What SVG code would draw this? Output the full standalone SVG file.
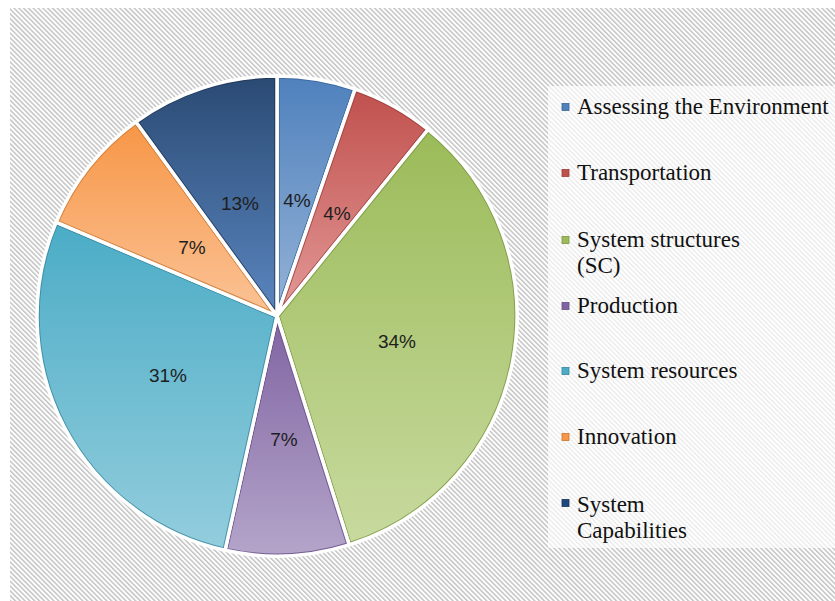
<svg xmlns="http://www.w3.org/2000/svg" xmlns:xlink="http://www.w3.org/1999/xlink" width="835" height="601" viewBox="0 0 835 601">
<defs>
<pattern id="hatch" patternUnits="userSpaceOnUse" width="3.4" height="3.4" patternTransform="rotate(-45)">
<rect x="0" y="0" width="3.4" height="3.4" fill="#ffffff"/>
<rect x="0" y="0" width="1.5" height="3.4" fill="#c4c4c4"/>
</pattern>
<linearGradient id="g1" x1="0" y1="0" x2="0" y2="1"><stop offset="0" stop-color="#4f81bd"/><stop offset="1" stop-color="#95b3d7"/></linearGradient>
<linearGradient id="g2" x1="0" y1="0" x2="0" y2="1"><stop offset="0" stop-color="#c0504d"/><stop offset="1" stop-color="#e39a98"/></linearGradient>
<linearGradient id="g3" x1="0" y1="0" x2="0" y2="1"><stop offset="0" stop-color="#9bbb59"/><stop offset="1" stop-color="#c8da9f"/></linearGradient>
<linearGradient id="g4" x1="0" y1="0" x2="0" y2="1"><stop offset="0" stop-color="#8064a2"/><stop offset="1" stop-color="#b4a5ca"/></linearGradient>
<linearGradient id="g5" x1="0" y1="0" x2="0" y2="1"><stop offset="0" stop-color="#4bacc6"/><stop offset="1" stop-color="#93cddd"/></linearGradient>
<linearGradient id="g6" x1="0" y1="0" x2="0" y2="1"><stop offset="0" stop-color="#f79646"/><stop offset="1" stop-color="#fbc397"/></linearGradient>
<linearGradient id="g7" x1="0" y1="0" x2="0" y2="1"><stop offset="0" stop-color="#2a4a73"/><stop offset="1" stop-color="#5b86c0"/></linearGradient>
<path id="s1" d="M277,316 L277,76 A240,240 0 0 1 355.14,89.08 Z"/>
<path id="s2" d="M277,316 L355.14,89.08 A240,240 0 0 1 428.04,129.48 Z"/>
<path id="s3" d="M277,316 L428.04,129.48 A240,240 0 0 1 349.17,544.89 Z"/>
<path id="s4" d="M277,316 L349.17,544.89 A240,240 0 0 1 225.05,550.31 Z"/>
<path id="s5" d="M277,316 L225.05,550.31 A240,240 0 0 1 56.08,222.22 Z"/>
<path id="s6" d="M277,316 L56.08,222.22 A240,240 0 0 1 135.93,121.84 Z"/>
<path id="s7" d="M277,316 L135.93,121.84 A240,240 0 0 1 277,76 Z"/>
<clipPath id="c1"><use xlink:href="#s1"/></clipPath>
<clipPath id="c2"><use xlink:href="#s2"/></clipPath>
<clipPath id="c3"><use xlink:href="#s3"/></clipPath>
<clipPath id="c4"><use xlink:href="#s4"/></clipPath>
<clipPath id="c5"><use xlink:href="#s5"/></clipPath>
<clipPath id="c6"><use xlink:href="#s6"/></clipPath>
<clipPath id="c7"><use xlink:href="#s7"/></clipPath>
</defs>
<style>
.edge{fill:none;stroke-width:5.5;stroke-opacity:0.8}
.sep{fill:none;stroke:#ffffff;stroke-width:3.5;stroke-linejoin:round}
.pct{font-family:"Liberation Sans",Arial,sans-serif;font-size:19px;fill:#1e1e1e;text-anchor:middle}
.leg{font-family:"Liberation Serif","Times New Roman",serif;font-size:23px;fill:#111111}
.mk{stroke-width:0.8}
</style>
<rect x="0" y="0" width="835" height="601" fill="#ffffff"/>
<rect x="10" y="8" width="825" height="593" fill="url(#hatch)"/>
<g id="pie">
<g id="slice-assessing">
<use xlink:href="#s1" fill="url(#g1)"/>
<use xlink:href="#s1" class="edge" stroke="#3a6498" clip-path="url(#c1)"/>
<use xlink:href="#s1" class="sep"/>
<text class="pct" x="297" y="207">4%</text>
</g>
<g id="slice-transportation">
<use xlink:href="#s2" fill="url(#g2)"/>
<use xlink:href="#s2" class="edge" stroke="#9c3c39" clip-path="url(#c2)"/>
<use xlink:href="#s2" class="sep"/>
<text class="pct" x="337" y="220">4%</text>
</g>
<g id="slice-structures">
<use xlink:href="#s3" fill="url(#g3)"/>
<use xlink:href="#s3" class="edge" stroke="#7a9641" clip-path="url(#c3)"/>
<use xlink:href="#s3" class="sep"/>
<text class="pct" x="397" y="348">34%</text>
</g>
<g id="slice-production">
<use xlink:href="#s4" fill="url(#g4)"/>
<use xlink:href="#s4" class="edge" stroke="#654c85" clip-path="url(#c4)"/>
<use xlink:href="#s4" class="sep"/>
<text class="pct" x="284" y="446">7%</text>
</g>
<g id="slice-resources">
<use xlink:href="#s5" fill="url(#g5)"/>
<use xlink:href="#s5" class="edge" stroke="#35869d" clip-path="url(#c5)"/>
<use xlink:href="#s5" class="sep"/>
<text class="pct" x="168" y="382">31%</text>
</g>
<g id="slice-innovation">
<use xlink:href="#s6" fill="url(#g6)"/>
<use xlink:href="#s6" class="edge" stroke="#c8762f" clip-path="url(#c6)"/>
<use xlink:href="#s6" class="sep"/>
<text class="pct" x="192" y="254">7%</text>
</g>
<g id="slice-capabilities">
<use xlink:href="#s7" fill="url(#g7)"/>
<use xlink:href="#s7" class="edge" stroke="#1d3553" clip-path="url(#c7)"/>
<use xlink:href="#s7" class="sep"/>
<text class="pct" x="240" y="210">13%</text>
</g>
</g>
<g id="connectors"/>
<g id="legend">
<rect x="548" y="86" width="287" height="462" fill="#ffffff" fill-opacity="0.68"/>
<g id="leg-assessing"><rect class="mk" x="562" y="103.5" width="7" height="7" fill="#4f81bd" stroke="#3a6498"/><text class="leg" x="577" y="114">Assessing the Environment</text></g>
<g id="leg-transportation"><rect class="mk" x="562" y="169.5" width="7" height="7" fill="#c0504d" stroke="#9c3c39"/><text class="leg" x="577" y="180">Transportation</text></g>
<g id="leg-structures"><rect class="mk" x="562" y="236.5" width="7" height="7" fill="#9bbb59" stroke="#7a9641"/><text class="leg" x="577" y="247">System structures</text><text class="leg" x="577" y="273">(SC)</text></g>
<g id="leg-production"><rect class="mk" x="562" y="302.5" width="7" height="7" fill="#8064a2" stroke="#654c85"/><text class="leg" x="577" y="313">Production</text></g>
<g id="leg-resources"><rect class="mk" x="562" y="367.5" width="7" height="7" fill="#4bacc6" stroke="#35869d"/><text class="leg" x="577" y="378">System resources</text></g>
<g id="leg-innovation"><rect class="mk" x="562" y="433.5" width="7" height="7" fill="#f79646" stroke="#c8762f"/><text class="leg" x="577" y="444">Innovation</text></g>
<g id="leg-capabilities"><rect class="mk" x="562" y="499.5" width="7" height="7" fill="#1f497d" stroke="#17365d"/><text class="leg" x="577" y="512">System</text><text class="leg" x="577" y="538">Capabilities</text></g>
</g>
</svg>
